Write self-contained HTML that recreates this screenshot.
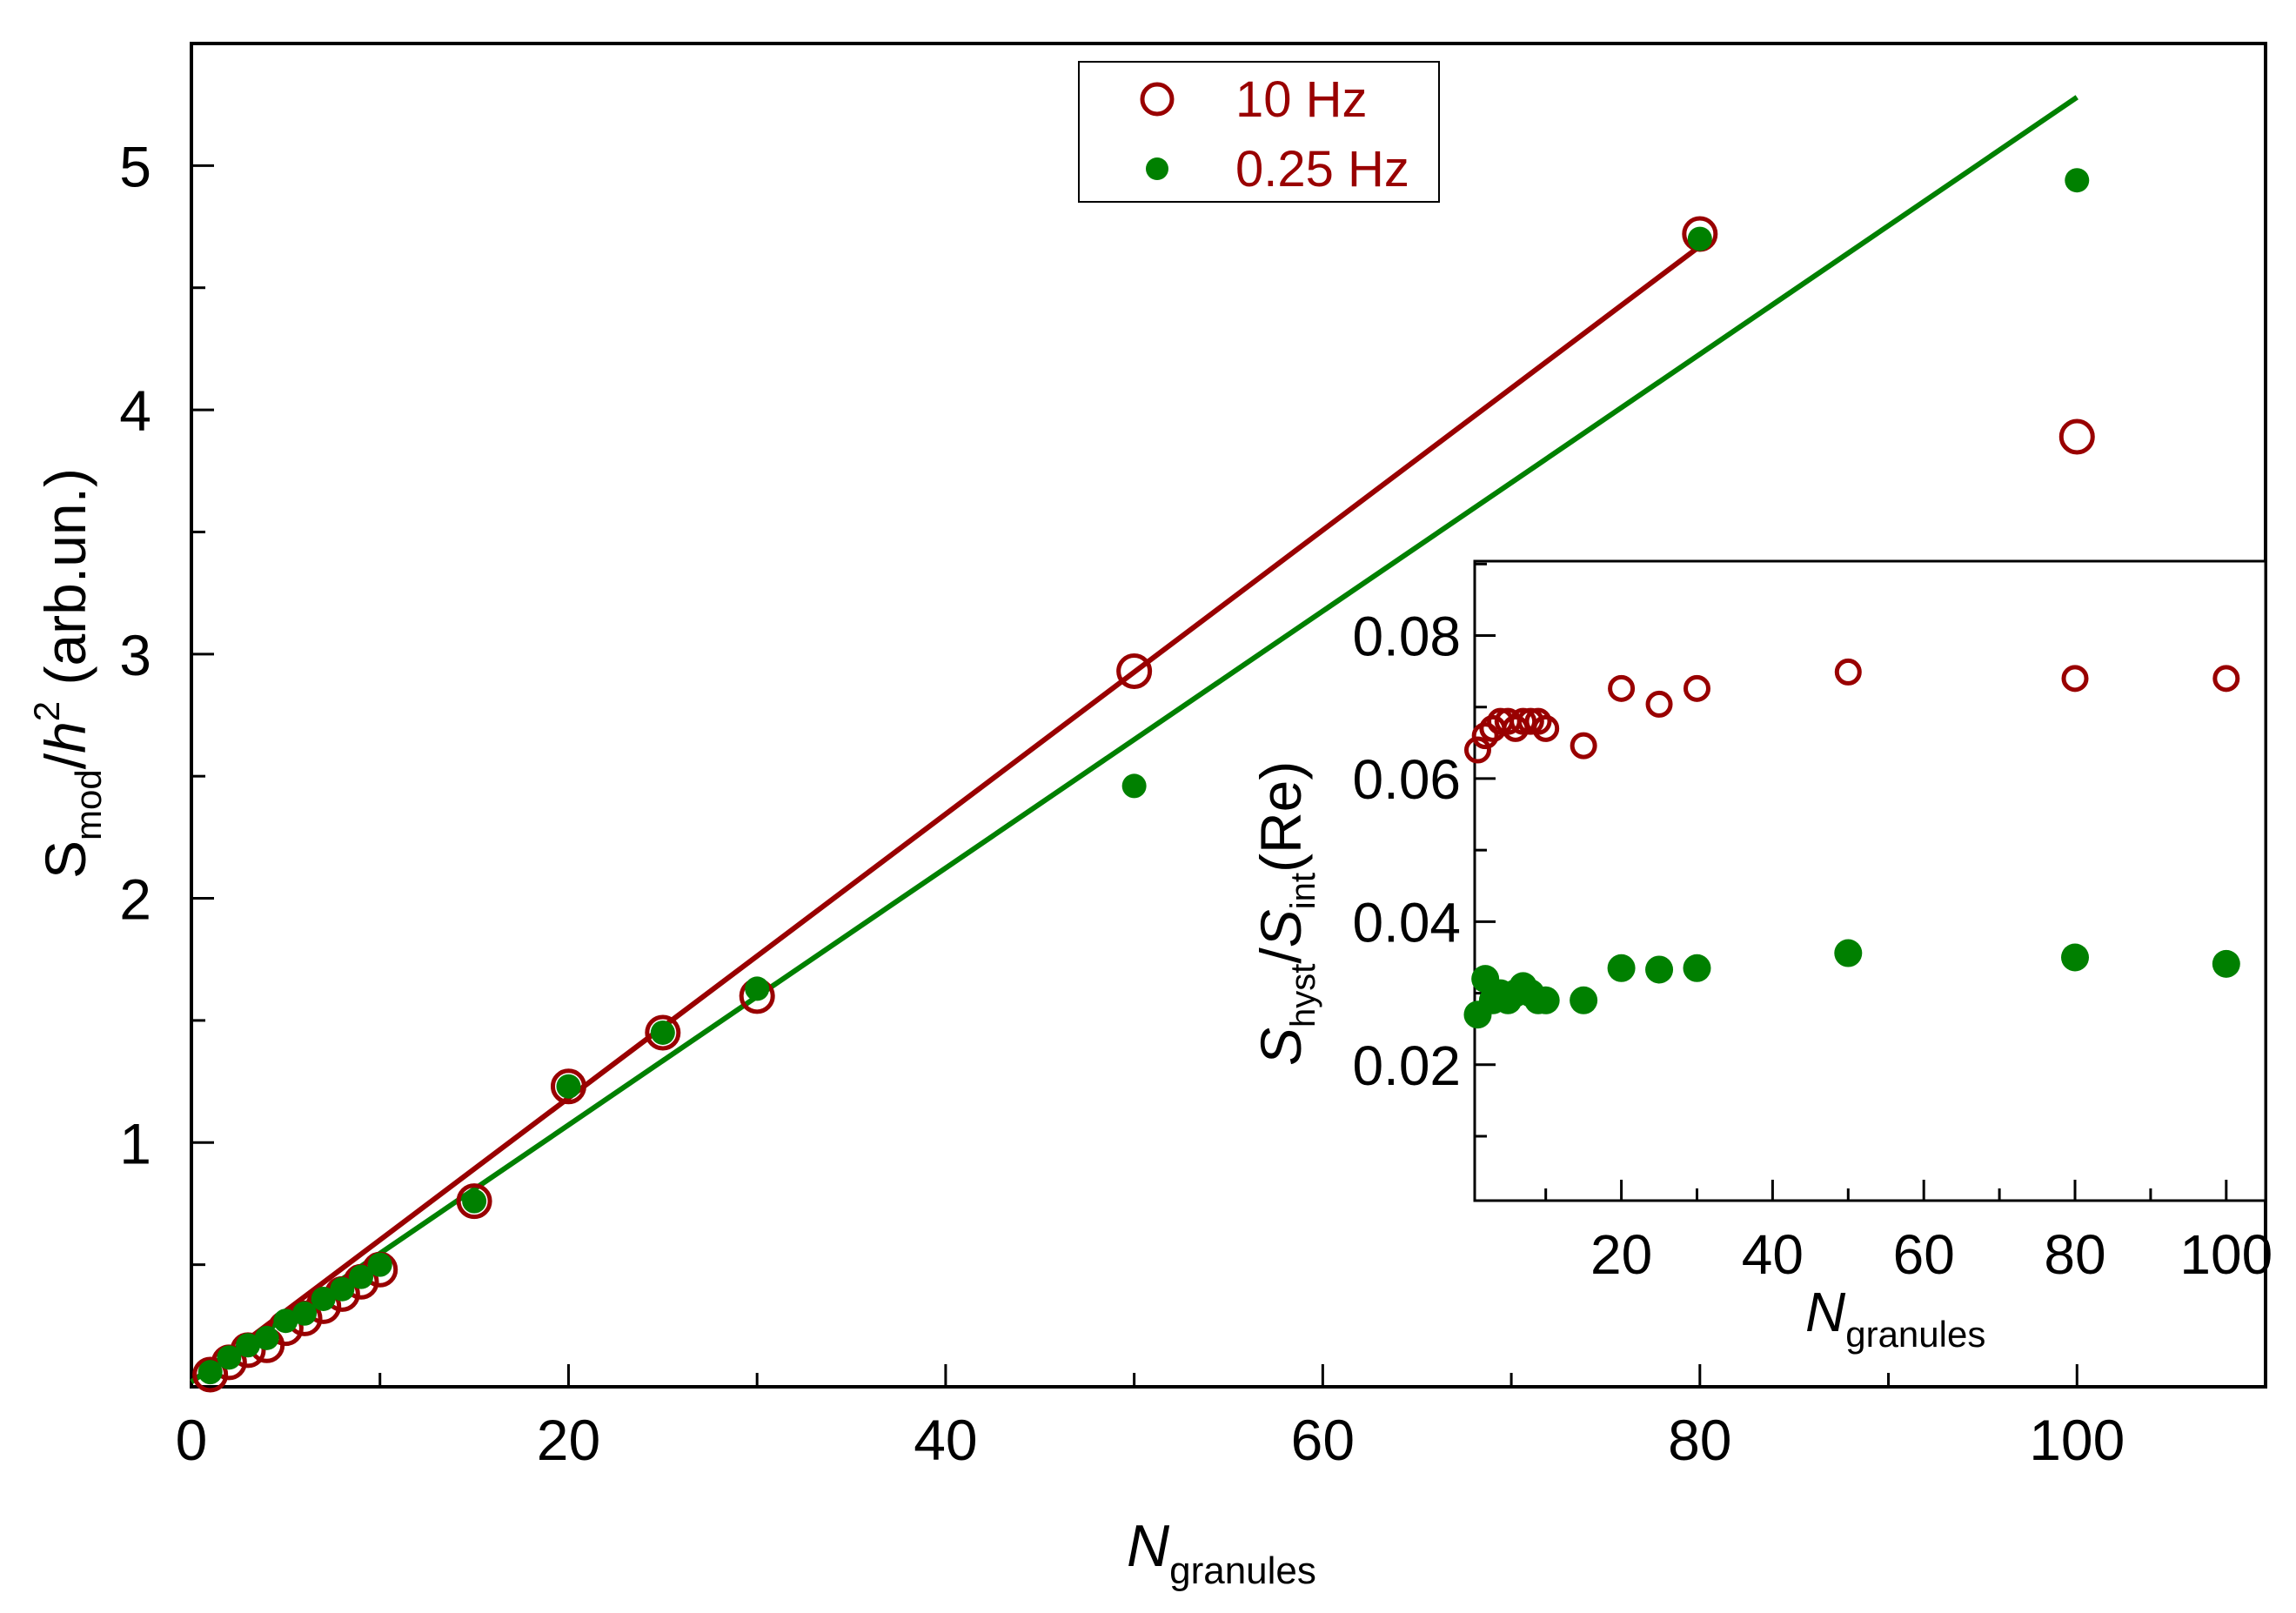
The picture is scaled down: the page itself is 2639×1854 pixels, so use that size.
<!DOCTYPE html>
<html><head><meta charset="utf-8"><style>
html,body{margin:0;padding:0;background:#fff}
svg{display:block;font-family:"Liberation Sans",Arial,sans-serif}
</style></head><body>
<svg id="chart" width="2639" height="1854" viewBox="0 0 2639 1854" xmlns="http://www.w3.org/2000/svg">
<g id="main"></g>
<g id="inset"></g>
<g>
  <rect x="1240" y="71" width="414" height="161" fill="#fff" stroke="#000" stroke-width="2"/>
  <circle cx="1330" cy="114" r="17" fill="none" stroke="#990000" stroke-width="5"/>
  <text x="1420" y="134" font-size="58" fill="#990000">10 Hz</text>
  <circle cx="1330" cy="194" r="13" fill="#008000"/>
  <text x="1420" y="214" font-size="58" fill="#990000">0.25 Hz</text>
</g>
<text x="1295" y="1800" font-size="68"><tspan font-style="italic">N</tspan><tspan font-size="44" dy="20">granules</tspan></text>
<text transform="translate(98,1010) rotate(-90)" font-size="66">S<tspan font-size="42" dy="18">mod</tspan><tspan dy="-18">/</tspan><tspan font-style="italic">h</tspan><tspan font-size="42" dy="-30">2</tspan><tspan dy="30">  (arb.un.)</tspan></text>
<text x="2075" y="1530" font-size="64"><tspan font-style="italic">N</tspan><tspan font-size="42" dy="18">granules</tspan></text>
<text transform="translate(1495,1225) rotate(-90)" font-size="66"><tspan font-style="italic">S</tspan><tspan font-size="40" dy="16">hyst</tspan><tspan dy="-16">/</tspan><tspan font-style="italic">S</tspan><tspan font-size="40" dy="16">int</tspan><tspan dy="-16">(Re)</tspan></text>
</svg>
<script>
// main plot data
const mainX = [1,2,3,4,5,6,7,8,9,10,15,20,25,30,50,80,100];
const main10Hz = [0.05,0.1,0.15,0.17,0.24,0.28,0.33,0.38,0.43,0.48,0.76,1.23,1.45,1.6,2.93,4.72,3.89];
const main025Hz = [0.06,0.12,0.17,0.2,0.27,0.3,0.36,0.4,0.45,0.5,0.76,1.23,1.45,1.63,2.46,4.7,4.94];
const fit10X = [0,80];
const fit10Y = [0.02,4.67];
const fit025X = [0,100];
const fit025Y = [0.02,5.28];
const mainXTicks = [0,20,40,60,80,100];
const mainYTicks = [1,2,3,4,5];
// inset data
const insetX = [1,2,3,4,5,6,7,8,9,10,15,20,25,30,50,80,100];
const inset10Hz = [0.064,0.066,0.067,0.068,0.068,0.067,0.068,0.068,0.068,0.067,0.0646,0.0726,0.0704,0.0726,0.0749,0.074,0.074];
const inset025Hz = [0.027,0.032,0.029,0.030,0.029,0.030,0.031,0.030,0.029,0.029,0.029,0.0335,0.0333,0.0335,0.0356,0.035,0.0341];
const insetXTicks = [20,40,60,80,100];
const insetYTicks = [0.02,0.04,0.06,0.08];

const NS='http://www.w3.org/2000/svg';
function mk(parent,tag,attrs){const e=document.createElementNS(NS,tag);for(const k in attrs)e.setAttribute(k,attrs[k]);parent.appendChild(e);return e;}

const M={l:220,r:2604,t:50,b:1594,x0:0,x1:110,y0:0,y1:5.5};
const mx=v=>M.l+(v-M.x0)/(M.x1-M.x0)*(M.r-M.l);
const my=v=>M.b-(v-M.y0)/(M.y1-M.y0)*(M.b-M.t);
const gm=document.getElementById('main');
let fr=mk(gm,'rect',{x:M.l,y:M.t,width:M.r-M.l,height:M.b-M.t,fill:'none',stroke:'#000','stroke-width':4});


for(let v=10;v<=110;v+=10){const big=v%20===0;mk(gm,'line',{x1:mx(v),x2:mx(v),y1:M.b,y2:M.b-(big?26:16),stroke:'#000','stroke-width':3});}
for(let v=0.5;v<5.5;v+=0.5){const big=Math.abs(v-Math.round(v))<1e-6;mk(gm,'line',{x1:M.l,x2:M.l+(big?26:16),y1:my(v),y2:my(v),stroke:'#000','stroke-width':3});}
mainXTicks.forEach(v=>{const t=mk(gm,'text',{x:mx(v),y:M.b+84,'font-size':66,'text-anchor':'middle'});t.textContent=v;

});
mainYTicks.forEach(v=>{const t=mk(gm,'text',{x:M.l-46,y:my(v)+24,'font-size':66,'text-anchor':'end'});t.textContent=v;

});
let l1=mk(gm,'line',{x1:mx(fit10X[0]),y1:my(fit10Y[0]),x2:mx(fit10X[1]),y2:my(fit10Y[1]),stroke:'#990000','stroke-width':6});


let l2=mk(gm,'line',{x1:mx(fit025X[0]),y1:my(fit025Y[0]),x2:mx(fit025X[1]),y2:my(fit025Y[1]),stroke:'#008000','stroke-width':6});


mainX.forEach((x,i)=>{const c=mk(gm,'circle',{cx:mx(x),cy:my(main10Hz[i]),r:18,fill:'none',stroke:'#990000','stroke-width':5});

});
mainX.forEach((x,i)=>{const c=mk(gm,'circle',{cx:mx(x),cy:my(main025Hz[i]),r:14,fill:'#008000'});

});

const I={l:1695,r:2604,t:645,b:1380,x0:0.6,x1:105.2,y0:0.001,y1:0.0904};
const ix=v=>I.l+(v-I.x0)/(I.x1-I.x0)*(I.r-I.l);
const iy=v=>I.b-(v-I.y0)/(I.y1-I.y0)*(I.b-I.t);
const gi=document.getElementById('inset');
let ir=mk(gi,'rect',{x:I.l,y:I.t,width:I.r-I.l,height:I.b-I.t,fill:'#fff',stroke:'#000','stroke-width':3});


for(let v=10;v<=100;v+=10){const big=v%20===0;mk(gi,'line',{x1:ix(v),x2:ix(v),y1:I.b,y2:I.b-(big?24:14),stroke:'#000','stroke-width':3});}
for(let k=1;k<=9;k++){const v=k*0.01;const big=k%2===0;mk(gi,'line',{x1:I.l,x2:I.l+(big?24:14),y1:iy(v),y2:iy(v),stroke:'#000','stroke-width':3});}
insetXTicks.forEach(v=>{const t=mk(gi,'text',{x:ix(v),y:I.b+84,'font-size':64,'text-anchor':'middle'});t.textContent=v;

});
insetYTicks.forEach(v=>{const t=mk(gi,'text',{x:I.l-16,y:iy(v)+23,'font-size':64,'text-anchor':'end'});t.textContent=v.toFixed(2);

});
insetX.forEach((x,i)=>{const c=mk(gi,'circle',{cx:ix(x),cy:iy(inset10Hz[i]),r:13,fill:'none',stroke:'#990000','stroke-width':5});

});
insetX.forEach((x,i)=>{const c=mk(gi,'circle',{cx:ix(x),cy:iy(inset025Hz[i]),r:16,fill:'#008000'});

});
</script>
</body></html>
